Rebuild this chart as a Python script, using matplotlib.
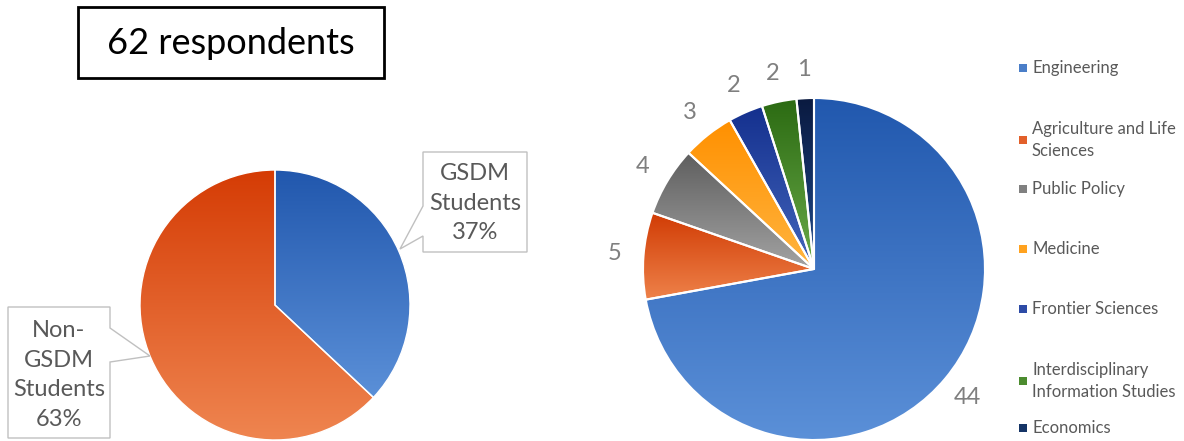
import numpy as np
import matplotlib
matplotlib.use("Agg")
import matplotlib.pyplot as plt
from matplotlib.colors import LinearSegmentedColormap
from matplotlib.patches import Rectangle, Polygon

plt.rcParams['font.family'] = ['Lato', 'DejaVu Sans']

W, H = 1184, 441

# left pie: share of respondents (percent)
groups = ['GSDM\nStudents', 'Non-\nGSDM\nStudents']
group_share = [37, 63]
group_top = ['#2157ad', '#d53c05']
group_bottom = ['#5b90d8', '#ef8550']

# right pie: respondents by school
schools = ['Engineering', 'Agriculture and Life\nSciences', 'Public Policy', 'Medicine',
           'Frontier Sciences', 'Interdisciplinary\nInformation Studies', 'Economics']
school_counts = [44, 5, 4, 3, 2, 2, 1]
school_top = ['#2158ae', '#d13c05', '#5e5e5e', '#ff9000', '#14308e', '#2b6a12', '#0a1a40']
school_bottom = ['#5b90d8', '#ee824a', '#a3a3a3', '#ffb540', '#4466bc', '#6bab4a', '#1f4a8c']
school_legend = ['#4a7ec8', '#e2602a', '#808080', '#ffa21f', '#2d4ba6', '#4c8c2f', '#153466']

total = 62
label_gray = '#7f7f7f'


def Y(y):
    # pixel row -> data y
    return H - y


def gradient_fill(ax, wedge, top, bottom):
    # vertical gradient clipped to the wedge, dark on top
    ext = wedge.get_path().get_extents()
    cmap = LinearSegmentedColormap.from_list('g', [top, bottom])
    grad = np.linspace(1, 0, 256).reshape(-1, 1)
    im = ax.imshow(grad, cmap=cmap, origin='lower', aspect='auto',
                   extent=(ext.x0, ext.x1, ext.y0, ext.y1), zorder=1)
    im.set_clip_path(wedge)
    wedge.set_facecolor('none')
    wedge.set_zorder(2)


fig = plt.figure(figsize=(W / 100, H / 100), dpi=100)
ax = fig.add_axes([0, 0, 1, 1])

# ---- left pie ----
wedges, _ = ax.pie(group_share, center=(275, Y(305)), radius=135, startangle=90,
                   counterclock=False, wedgeprops=dict(edgecolor='white', linewidth=1))
for w, t, b in zip(wedges, group_top, group_bottom):
    gradient_fill(ax, w, t, b)

# callouts
box_gsdm = [(423, 152), (527, 152), (527, 252), (423, 252), (423, 236), (400, 249), (423, 206)]
box_non = [(8, 307), (110, 307), (110, 328), (150, 356), (110, 362), (110, 438), (8, 438)]
callouts = [(box_gsdm, (475, 203)), (box_non, (59, 375))]
for (pts, (tx, ty)), name, share in zip(callouts, groups, group_share):
    ax.add_patch(Polygon([(x, Y(y)) for x, y in pts], closed=True, facecolor='white',
                         edgecolor='#c0c0c0', linewidth=1, zorder=3))
    ax.text(tx, Y(ty), f'{name}\n{share}%', ha='center', va='center', fontsize=17,
            color='#595959', linespacing=1.5, zorder=4)

# title box
ax.add_patch(Rectangle((78, Y(78)), 306, 71, facecolor='white', edgecolor='black',
                       linewidth=2, zorder=3))
ax.text(231, Y(44), f'{total} respondents', ha='center', va='center', fontsize=26,
        color='black', zorder=4)

# ---- right pie ----
wedges, texts = ax.pie(school_counts, center=(814, Y(269)), radius=171, startangle=90,
                       counterclock=False, labels=[str(c) for c in school_counts],
                       labeldistance=1.17,
                       textprops=dict(fontsize=17, color=label_gray),
                       wedgeprops=dict(edgecolor='white', linewidth=1.5))
for w, t, b in zip(wedges, school_top, school_bottom):
    gradient_fill(ax, w, t, b)
for t in texts:
    t.set_ha('center')
    t.set_va('center')

# legend
legend_rows = [68, 140, 189, 249, 309, 381, 428]
for name, col, ry in zip(schools, school_legend, legend_rows):
    ax.add_patch(Rectangle((1019, Y(ry) - 4), 8, 8, facecolor=col, edgecolor='none'))
    ax.text(1032, Y(ry), name, ha='left', va='center', fontsize=12, color='#595959',
            linespacing=1.45)

ax.set_xlim(0, W)
ax.set_ylim(0, H)
ax.set_aspect('equal')
ax.axis('off')

fig.savefig('out.png', dpi=100)
